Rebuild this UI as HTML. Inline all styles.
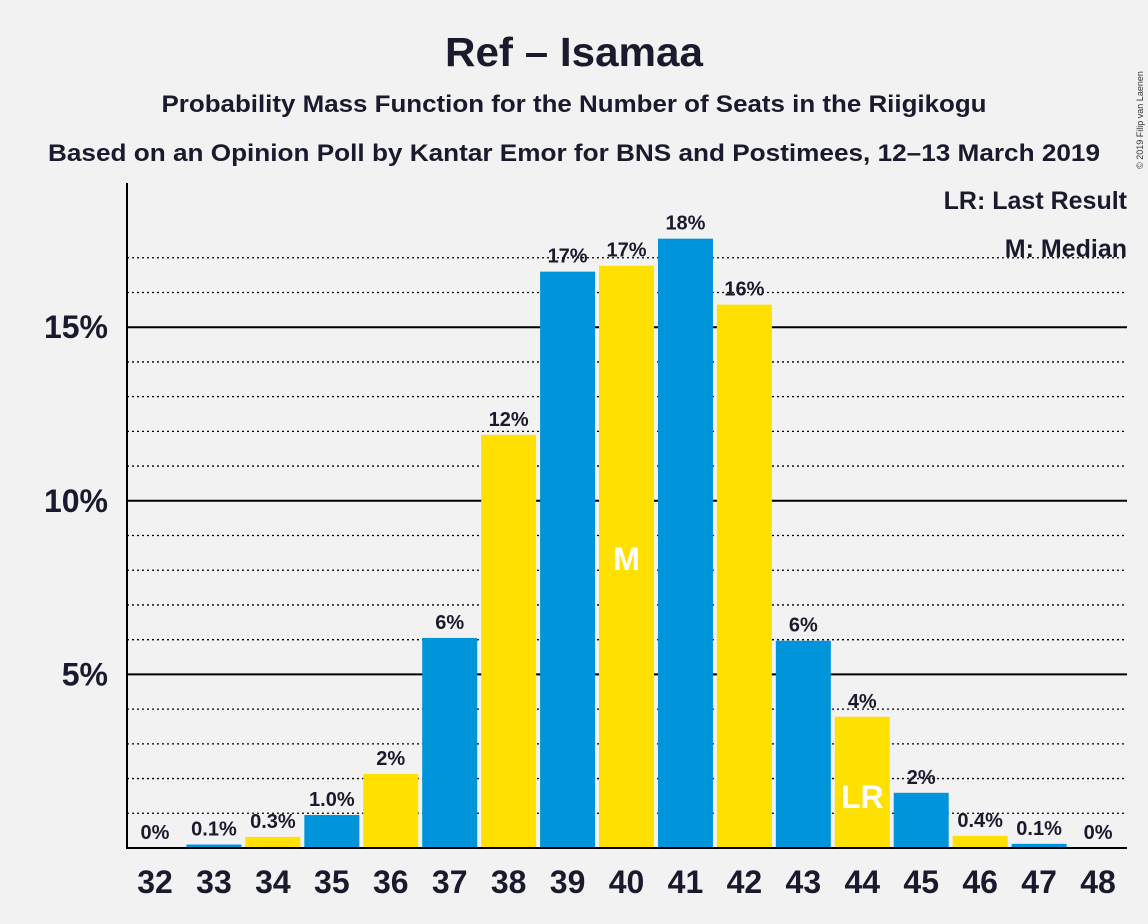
<!DOCTYPE html>
<html><head><meta charset="utf-8"><style>
body{margin:0;background:#f2f2f2;font-family:"Liberation Sans",sans-serif;}
</style></head><body>
<svg id="chart" width="1148" height="924" xmlns="http://www.w3.org/2000/svg" style="display:block;background:#f2f2f2">
<text x="574" y="66" text-anchor="middle" font-size="41" font-weight="bold" fill="#1a1a2e" textLength="258" lengthAdjust="spacingAndGlyphs">Ref – Isamaa</text>
<text x="574" y="112" text-anchor="middle" font-size="24" font-weight="bold" fill="#1a1a2e" textLength="825" lengthAdjust="spacingAndGlyphs">Probability Mass Function for the Number of Seats in the Riigikogu</text>
<text x="574" y="161" text-anchor="middle" font-size="24" font-weight="bold" fill="#1a1a2e" textLength="1052" lengthAdjust="spacingAndGlyphs">Based on an Opinion Poll by Kantar Emor for BNS and Postimees, 12–13 March 2019</text>
<text x="1143" y="120" font-size="9" fill="#333" transform="rotate(-90 1143 120)" text-anchor="middle">© 2019 Filip van Laenen</text>
<g id="grid"></g><g id="bars"></g><g id="labels"></g>
<line x1="127" y1="183" x2="127" y2="849" stroke="#000" stroke-width="2"/>
<line x1="127" y1="848" x2="1127" y2="848" stroke="#000" stroke-width="2"/>
<text x="1127" y="209" text-anchor="end" font-size="25" font-weight="bold" fill="#1a1a2e">LR: Last Result</text>
<text x="1127" y="257" text-anchor="end" font-size="25" font-weight="bold" fill="#1a1a2e">M: Median</text>
</svg>
<script>
const seats=[32,33,34,35,36,37,38,39,40,41,42,43,44,45,46,47,48];
const probs=[0,0.1,0.32,0.95,2.13,6.05,11.9,16.6,16.77,17.55,15.65,5.97,3.78,1.59,0.35,0.12,0];
const valueLabels=["0%","0.1%","0.3%","1.0%","2%","6%","12%","17%","17%","18%","16%","6%","4%","2%","0.4%","0.1%","0%"];
const yTicks=[5,10,15];
const median=40, lastResult=44;
const NS="http://www.w3.org/2000/svg";
const y=v=>848-v*34.72;
const xc=s=>155+(s-32)*58.94;
function mk(tag,attrs,parent){const e=document.createElementNS(NS,tag);for(const k in attrs)e.setAttribute(k,attrs[k]);parent.appendChild(e);return e;}
const grid=document.getElementById('grid'),bars=document.getElementById('bars'),labels=document.getElementById('labels');
for(let v=1;v<=17;v++){
  const solid=yTicks.includes(v);
  const l=mk('line',{x1:127,x2:1127,y1:y(v),y2:y(v),stroke:'#000','stroke-width':solid?2:1.3,'stroke-dasharray':solid?'none':'2,3'},grid);
  
  
}
yTicks.forEach(v=>{
  const t=mk('text',{x:108,y:y(v)+11,'text-anchor':'end','font-size':32,'font-weight':'bold',fill:'#1a1a2e'},labels);
  t.textContent=v+'%';
  
  
});
seats.forEach((s,i)=>{
  const p=probs[i];const col=i%2===0?'#FFE000':'#0095DA';
  const r=mk('rect',{x:xc(s)-27.5,y:y(p),width:55,height:848-y(p),fill:col},bars);
  
  
  const t=mk('text',{x:xc(s),y:y(p)-9,'text-anchor':'middle','font-size':20,'font-weight':'bold',fill:'#1a1a2e'},labels);
  t.textContent=valueLabels[i];
  
  
  const xl=mk('text',{x:xc(s),y:893,'text-anchor':'middle','font-size':32,'font-weight':'bold',fill:'#1a1a2e'},labels);
  xl.textContent=s;
  
  
  if(s===median||s===lastResult){
    const m=mk('text',{x:xc(s),y:s===median?y(8):y(1.15),'text-anchor':'middle','font-size':32,'font-weight':'bold',fill:'#fff'},labels);
    m.textContent=s===median?'M':'LR';
    
    
  }
});
</script>
</body></html>
